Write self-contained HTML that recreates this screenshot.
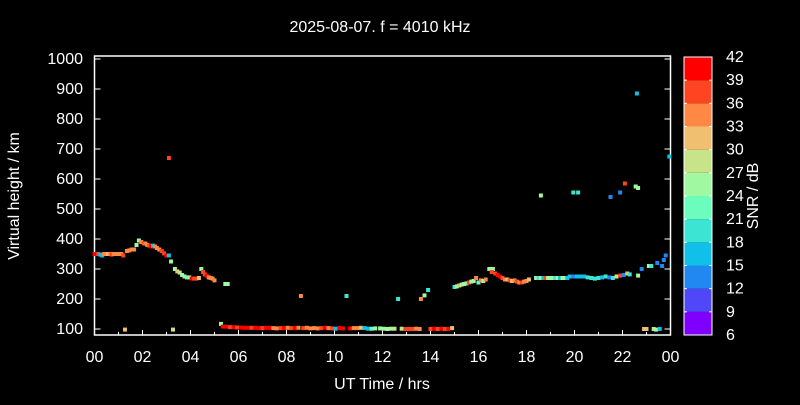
<!DOCTYPE html>
<html><head><meta charset="utf-8"><style>
body{margin:0;background:#000;width:800px;height:400px;overflow:hidden}
text{font-family:"Liberation Sans",sans-serif;fill:#fff}
</style></head><body>
<svg id="chart" width="800" height="400" viewBox="0 0 800 400" xmlns="http://www.w3.org/2000/svg">
<rect width="800" height="400" fill="#000"/>
<text x="380" y="32" font-size="16" text-anchor="middle">2025-08-07. f = 4010 kHz</text>
<text transform="translate(19,196) rotate(-90)" font-size="16" text-anchor="middle">Virtual height / km</text>
<text x="382" y="389" font-size="16" text-anchor="middle">UT Time / hrs</text>
<text transform="translate(758,196) rotate(-90)" font-size="16" text-anchor="middle">SNR / dB</text>
<g id="axes"></g><g id="marks"></g><g id="cbar"></g>
</svg>
<script>
const xTicks=["00","02","04","06","08","10","12","14","16","18","20","22","00"];
const yTicks=[100,200,300,400,500,600,700,800,900,1000];
const cbTicks=[6,9,12,15,18,21,24,27,30,33,36,39,42];
const bandColors=["#8000ff","#5048f8","#2088f0","#10c0e8","#3ce4d4","#6cfcbc","#a0f8a0","#c8e488","#f0c070","#ff8844","#ff4422","#ff0000"];
const times=[
0,0.08,0.16,0.24,0.32,0.4,0.48,0.56,0.64,0.72,
0.8,0.88,0.96,1.04,1.12,1.2,1.35,1.45,1.55,1.65,
1.75,1.85,1.95,2.05,2.12,2.2,2.28,2.36,2.44,2.52,
2.6,2.7,2.8,2.9,3.0,3.1,3.19,3.35,3.45,3.55,
3.65,3.75,3.85,3.95,4.05,4.15,4.25,4.35,4.45,4.52,
4.6,4.68,4.76,4.84,4.92,5.0,5.45,5.55,
1.27,3.27,3.1,8.6,10.5,12.65,13.6,13.75,13.9,5.27,
18.6,19.95,20.15,21.5,21.9,22.1,22.55,22.65,22.6,23.95,
5.35,5.5,5.65,5.8,5.95,6.1,6.25,6.4,6.55,6.7,
6.85,7.0,7.15,7.3,7.45,7.6,7.75,7.9,8.05,8.2,
8.35,8.5,8.7,8.85,9.0,9.15,9.3,9.45,9.6,9.75,
9.9,10.05,10.2,10.35,10.65,10.8,10.95,11.1,11.25,11.4,
11.55,11.7,11.9,12.05,12.2,12.35,12.5,12.8,12.95,13.1,
13.25,13.4,13.55,14.0,14.15,14.3,14.45,14.6,14.75,14.9,
15.0,15.1,15.2,15.3,15.4,15.5,15.6,15.7,15.8,15.9,
16.0,16.1,16.2,16.3,16.45,16.6,16.55,16.7,16.8,16.9,
17.0,17.1,17.2,17.3,17.4,17.5,17.6,17.7,17.8,17.9,
18.0,18.1,18.4,18.5,18.6,18.7,18.8,18.9,19.0,19.1,
19.2,19.3,19.4,19.5,19.6,19.7,19.8,19.95,20.1,20.25,
20.4,20.55,20.7,20.85,21.0,21.15,21.3,21.45,21.6,21.75,
21.9,22.05,22.2,22.3,22.65,22.8,23.1,23.2,23.45,23.65,
23.72,23.8,22.9,23.0,23.3,23.4,23.55];
const heights=[
350,350,350,348,345,350,350,350,350,348,
350,350,350,350,350,345,360,362,365,365,
380,395,390,385,385,380,378,375,378,375,
370,365,360,352,345,345,325,300,292,288,
280,275,272,272,268,268,268,270,300,290,
282,278,272,270,268,262,250,250,
98,98,670,210,210,200,200,212,230,117,
545,555,555,540,555,585,575,570,885,675,
108,108,106,106,105,105,104,104,104,104,
103,103,104,104,103,102,103,103,104,103,
103,104,103,104,102,103,102,103,104,103,
102,101,103,102,102,103,103,104,103,101,
101,102,102,101,100,101,101,101,100,100,
100,101,100,100,101,100,101,100,100,103,
240,242,245,248,250,252,255,258,260,270,
255,262,260,265,300,300,290,285,280,275,
270,265,265,262,260,262,258,255,255,258,
260,265,270,270,270,270,270,270,270,270,
270,270,270,270,270,270,275,275,275,275,
275,272,270,268,270,272,275,272,270,275,
278,280,285,282,278,300,310,310,320,310,
330,345,100,100,100,98,100];
const snrs=[
40,40,38,16,15,34,34,32,34,36,
35,33,33,35,35,37,34,33,33,33,
26,25,34,36,35,35,37,40,17,33,
33,33,36,38,39,16,25,24,30,27,
24,24,21,24,40,36,36,30,24,38,
38,40,34,34,33,33,26,26,
32,27,38,33,20,20,34,26,19,26,
24,20,20,13,12,36,26,26,16,17,
39,40,38,40,38,39,40,40,38,39,
40,38,40,39,33,35,38,40,34,36,
40,33,38,33,33,34,33,38,40,33,
36,17,40,40,39,33,34,32,16,15,
23,26,26,25,25,26,27,27,36,36,
38,33,34,36,40,36,40,38,40,30,
20,26,30,26,26,26,36,26,24,33,
21,34,26,34,25,26,36,38,39,40,
38,33,32,36,30,33,36,33,38,33,
34,30,26,18,28,16,38,24,26,24,
18,25,16,26,26,17,17,13,16,17,
17,18,18,18,19,16,18,14,18,27,
38,13,30,20,24,13,25,19,13,12,
13,12,30,30,27,24,17];
const X0=94.5,PXH=24,Y0=335,YMIN=80,PXK=0.3;
const xs=t=>X0+t*PXH, ys=h=>Y0-(h-YMIN)*PXK;
const ns="http://www.w3.org/2000/svg";
function mk(tag,attrs,parent){const e=document.createElementNS(ns,tag);for(const k in attrs)e.setAttribute(k,attrs[k]);parent.appendChild(e);return e;}
const axes=document.getElementById('axes');
const frame=mk('rect',{x:X0,y:56,width:576,height:279,fill:'none',stroke:'#fff','stroke-width':1.5},axes);


xTicks.forEach((l,i)=>{const x=xs(i*2);
 mk('line',{x1:x,y1:Y0,x2:x,y2:Y0-5,stroke:'#fff'},axes);
 if(i<12){const xm=xs(i*2+1);mk('line',{x1:xm,y1:Y0,x2:xm,y2:Y0-3,stroke:'#fff'},axes);}
 const t=mk('text',{x:x,y:362,'font-size':16,'text-anchor':'middle'},axes);t.textContent=l;
 
 });
yTicks.forEach(v=>{const y=ys(v);
 mk('line',{x1:X0,y1:y,x2:X0+6,y2:y,stroke:'#fff'},axes);
 mk('line',{x1:670.5,y1:y,x2:664.5,y2:y,stroke:'#fff'},axes);
 const t=mk('text',{x:83,y:y+5,'font-size':16,'text-anchor':'end'},axes);t.textContent=v;
 
 });
const marks=document.getElementById('marks');
const col=s=>bandColors[Math.max(0,Math.min(11,Math.floor((s-6)/3)))];
const n=Math.min(times.length,heights.length,snrs.length);
for(let i=0;i<n;i++){const r=mk('rect',{x:xs(times[i])-2,y:ys(heights[i])-2,width:4,height:4,fill:col(snrs[i])},marks);
 
 }
const cb=document.getElementById('cbar');
const CT=57,CB=335,CH=(CB-CT)/12;
bandColors.forEach((c,i)=>{const r=mk('rect',{x:684,y:CB-(i+1)*CH,width:28,height:CH,fill:c},cb);
 
 });
mk('rect',{x:684,y:CT,width:28,height:CB-CT,fill:'none',stroke:'#fff','stroke-width':1},cb);
cbTicks.forEach((v,i)=>{const y=CB-i*CH;
 if(i>0&&i<12){mk('line',{x1:684,y1:y,x2:687,y2:y,stroke:'#fff'},cb);mk('line',{x1:712,y1:y,x2:709,y2:y,stroke:'#fff'},cb);}
 const t=mk('text',{x:726,y:y+5,'font-size':16},cb);t.textContent=v;
 
 });
</script>
</body></html>
